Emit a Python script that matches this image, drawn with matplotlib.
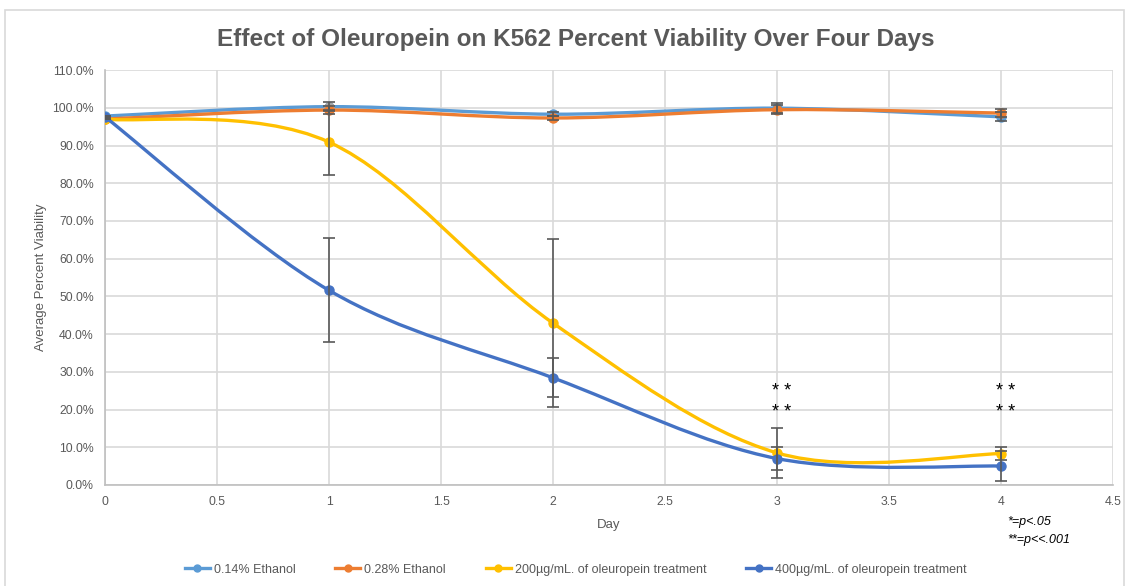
"""
Oleuropein effect on K562 viability, Excel-style smoothed line chart
"""
import matplotlib
matplotlib.use("Agg")
import matplotlib.pyplot as plt
from matplotlib.path import Path
from matplotlib.patches import PathPatch, Rectangle
from matplotlib.lines import Line2D
from matplotlib.ticker import FuncFormatter, MultipleLocator

plt.rcParams['font.family'] = ['Liberation Sans', 'DejaVu Sans']

days = [0, 1, 2, 3, 4]

eth014 = [97.8, 100.3, 98.3, 99.9, 97.6]
eth014_err = [0.0, 1.2, 0.6, 1.3, 1.2]
eth028 = [97.0, 99.4, 97.3, 99.5, 98.6]
eth028_err = [0.0, 1.0, 0.5, 1.2, 1.0]
ole200 = [97.0, 90.9, 42.9, 8.5, 8.3]
ole200_err = [0.0, 8.6, 22.3, 6.6, 1.7]
ole400 = [97.6, 51.6, 28.4, 7.0, 5.0]
ole400_err = [0.0, 13.8, 5.2, 3.0, 3.9]

series_labels = ["0.14% Ethanol", "0.28% Ethanol",
                 "200µg/mL. of oleuropein treatment",
                 "400µg/mL. of oleuropein treatment"]
series_colors = ["#5B9BD5", "#ED7D31", "#FFC000", "#4472C4"]

star_days = [3, 4]
star_rows = [24.8, 19.2]

TXT = "#595959"
GRID = "#D9D9D9"


def smooth_path(x, y):
  """bezier path through points, the way Excel smooths its lines"""
  pts = list(zip(x, y))
  n = len(pts)
  verts = [pts[0]]
  codes = [Path.MOVETO]
  for i in range(n - 1):
    p0 = pts[max(i - 1, 0)]
    p1 = pts[i]
    p2 = pts[i + 1]
    p3 = pts[min(i + 2, n - 1)]
    c1 = (p1[0] + (p2[0] - p0[0]) / 6, p1[1] + (p2[1] - p0[1]) / 6)
    c2 = (p2[0] - (p3[0] - p1[0]) / 6, p2[1] - (p3[1] - p1[1]) / 6)
    verts += [c1, c2, p2]
    codes += [Path.CURVE4] * 3
  return Path(verts, codes)


fig = plt.figure(figsize=(11.29, 5.86), dpi=100)
ax = fig.add_axes([0.093, 0.1724, 0.893, 0.708])

fig.patches.append(Rectangle((0.004, -0.01), 0.992, 0.993, transform=fig.transFigure,
                             fill=False, edgecolor=GRID, lw=1.2))

data = [(eth014, eth014_err), (eth028, eth028_err),
        (ole200, ole200_err), (ole400, ole400_err)]

handles = []
for k, ((vals, errs), color, label) in enumerate(zip(data, series_colors, series_labels)):
  ax.add_patch(PathPatch(smooth_path(days, vals), facecolor="none", edgecolor=color,
                         lw=2.4, capstyle="round", zorder=3 + k))
  ax.plot(days, vals, "o", color=color, ms=6.5, zorder=3 + k)
  ax.errorbar(days, vals, yerr=errs, fmt="none", ecolor=TXT, elinewidth=1.2,
              capsize=4, capthick=1.2, zorder=8)
  handles.append(Line2D([], [], color=color, lw=2.4, marker="o", ms=5))

# the one odd grey marker on the 0.14% series
ax.plot(days[1], eth014[1], "o", color="#A5A5A5", ms=6.5, zorder=3)

for d in star_days:
  for r in star_rows:
    ax.text(d + 0.02, r, "* *", ha="center", va="center", fontsize=13, color="black",
            zorder=9)

ax.set_xlim(0, 4.5)
ax.set_ylim(0, 110)
ax.xaxis.set_major_locator(MultipleLocator(0.5))
ax.yaxis.set_major_locator(MultipleLocator(10))
ax.xaxis.set_major_formatter(FuncFormatter(lambda v, p: "%g" % v))
ax.yaxis.set_major_formatter(FuncFormatter(lambda v, p: "%.1f%%" % v))
ax.grid(True, color=GRID, lw=1.2, zorder=0)
ax.set_axisbelow(True)
for s in ["top", "right"]:
  ax.spines[s].set_visible(False)
for s in ["left", "bottom"]:
  ax.spines[s].set_color("#BFBFBF")
  ax.spines[s].set_linewidth(1.2)
ax.tick_params(length=0, labelsize=8.8, colors=TXT, pad=8)

ax.set_xlabel("Day", fontsize=9.5, color=TXT, labelpad=8)
ax.set_ylabel("Average Percent Viability", fontsize=9.5, color=TXT, labelpad=4)

fig.text(0.51, 0.932, "Effect of Oleuropein on K562 Percent Viability Over Four Days",
         ha="center", va="center", fontsize=17.5, fontweight="bold", color=TXT)

fig.text(0.892, 0.104, "*=p<.05", fontsize=9, style="italic", color="black")
fig.text(0.892, 0.073, "**=p<<.001", fontsize=9, style="italic", color="black")

fig.legend(handles, series_labels, loc="center", bbox_to_anchor=(0.51, 0.028), ncol=4,
           frameon=False, fontsize=9, labelcolor=TXT, handlelength=2.0,
           handletextpad=0.3, columnspacing=3.2)

fig.savefig("out.png", dpi=100)
